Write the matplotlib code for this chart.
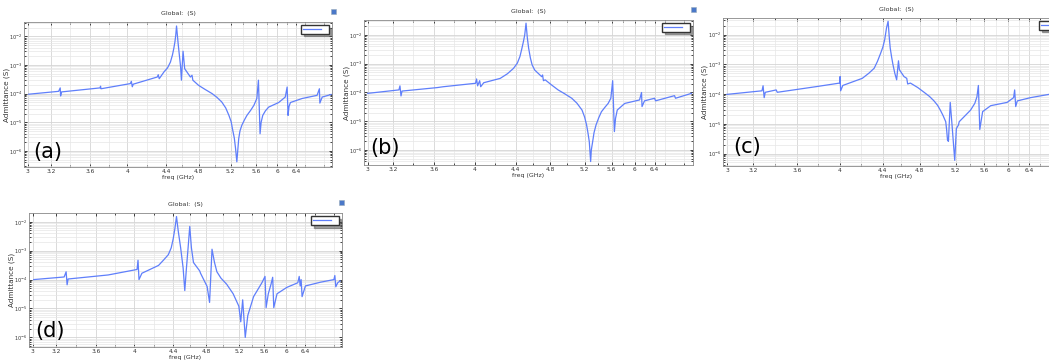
import numpy as np
import matplotlib
matplotlib.use("Agg")
import matplotlib.pyplot as plt
from matplotlib.patches import Rectangle
from matplotlib.ticker import FixedLocator, FormatStrFormatter, LogLocator, NullFormatter

# tick labels of the frequency axis, and where they sit along the axis (0..1)
tick_ghz = [3, 3.2, 3.6, 4, 4.4, 4.8, 5.2, 5.6, 6, 6.4]
minor_ghz = [3.4, 3.8, 4.2, 4.6, 5.0, 5.4, 5.8, 6.2, 6.6, 7.0]
scale_ghz = [2.0, 3.0, 3.2, 3.6, 4.0, 4.4, 4.8, 5.2, 5.6, 6.0, 6.4, 8.0]
scale_pos = [-0.37, 0.01, 0.086, 0.212, 0.335, 0.46, 0.566, 0.67, 0.752, 0.822, 0.883, 1.126]

# (a) frequency (GHz) and log10 admittance (S)
freq_a = [3.01, 3.28, 3.296, 3.30, 3.31, 3.71, 3.715, 3.72, 4.03, 4.04, 4.05, 4.06,
          4.31, 4.32, 4.33, 4.38, 4.42, 4.455, 4.48, 4.496, 4.51, 4.52, 4.53, 4.55,
          4.58, 4.59, 4.61, 4.63, 4.70, 4.72, 4.73, 4.80, 4.88, 4.97, 5.03, 5.09,
          5.14, 5.18, 5.21, 5.23, 5.26, 5.28, 5.30, 5.33, 5.35, 5.38, 5.42, 5.46,
          5.52, 5.57, 5.62, 5.65, 5.68, 5.70, 5.73, 5.78, 5.84, 6.03, 6.17, 6.21,
          6.23, 6.25, 6.28, 6.53, 6.85, 6.90, 6.91, 6.96, 7.15]
log_adm_a = [-4.02, -3.92, -3.80, -4.08, -3.94, -3.80, -3.74, -3.83, -3.65, -3.57, -3.76, -3.67,
             -3.42, -3.34, -3.48, -3.24, -3.10, -2.90, -2.65, -2.43, -2.20, -1.97, -1.64, -2.26,
             -3.07, -3.53, -2.52, -3.13, -3.42, -3.36, -3.53, -3.71, -3.85, -4.00, -4.13, -4.29,
             -4.50, -4.76, -4.98, -5.22, -5.55, -5.92, -6.38, -5.57, -5.30, -5.10, -4.92, -4.76,
             -4.58, -4.41, -4.17, -3.53, -5.40, -5.00, -4.76, -4.60, -4.47, -4.31, -4.12, -3.77,
             -4.76, -4.45, -4.31, -4.17, -4.06, -3.83, -4.33, -4.12, -4.03]

# (b)
freq_b = [3.00, 3.26, 3.27, 3.28, 3.29, 3.63, 3.69, 4.01, 4.02, 4.03, 4.05, 4.06, 4.09,
          4.25, 4.32, 4.38, 4.42, 4.45, 4.47, 4.49, 4.505, 4.52, 4.535, 4.55, 4.57,
          4.59, 4.62, 4.70, 4.71, 4.72, 4.74, 4.81, 4.89, 4.97, 5.05, 5.11, 5.17,
          5.20, 5.23, 5.25, 5.27, 5.29, 5.30, 5.32, 5.34, 5.37, 5.41, 5.45, 5.50,
          5.55, 5.59, 5.62, 5.65, 5.67, 5.70, 5.83, 6.10, 6.14, 6.15, 6.20, 6.40,
          6.42, 6.80, 6.82, 7.14]
log_adm_b = [-4.03, -3.91, -3.77, -4.12, -3.95, -3.83, -3.80, -3.68, -3.53, -3.77, -3.59, -3.80, -3.66,
             -3.51, -3.35, -3.16, -2.98, -2.75, -2.50, -2.23, -2.00, -1.59, -2.10, -2.46, -2.80,
             -3.04, -3.22, -3.45, -3.39, -3.59, -3.56, -3.73, -3.91, -4.05, -4.20, -4.37, -4.61,
             -4.85, -5.13, -5.40, -5.71, -6.40, -6.00, -5.71, -5.40, -5.13, -4.88, -4.67, -4.52,
             -4.38, -4.20, -3.59, -5.36, -4.90, -4.61, -4.38, -4.26, -4.00, -4.49, -4.29, -4.20,
             -4.29, -4.11, -4.20, -4.03]

# (c)
freq_c = [3.00, 3.28, 3.29, 3.30, 3.31, 3.41, 3.42, 3.78, 4.00, 4.005, 4.01, 4.03,
          4.21, 4.27, 4.32, 4.35, 4.38, 4.40, 4.42, 4.44, 4.457, 4.47, 4.48, 4.495,
          4.51, 4.53, 4.55, 4.57, 4.58, 4.63, 4.66, 4.67, 4.70, 4.78, 4.85, 4.91,
          4.96, 5.00, 5.03, 5.06, 5.09, 5.10, 5.11, 5.12, 5.14, 5.16, 5.19, 5.21,
          5.24, 5.25, 5.32, 5.41, 5.47, 5.50, 5.52, 5.54, 5.58, 5.71, 5.98, 6.10,
          6.12, 6.14, 6.17, 6.42, 6.77]
log_adm_c = [-4.01, -3.89, -3.72, -4.12, -3.94, -3.86, -3.94, -3.75, -3.63, -3.41, -3.89, -3.71,
             -3.47, -3.30, -3.13, -2.90, -2.62, -2.42, -2.17, -1.77, -1.55, -2.10, -2.45, -2.75,
             -3.01, -3.30, -3.52, -2.88, -3.18, -3.41, -3.47, -3.66, -3.63, -3.78, -3.94, -4.08,
             -4.23, -4.38, -4.54, -4.72, -4.93, -5.20, -5.55, -5.59, -4.28, -5.04, -6.23, -5.16,
             -5.04, -4.93, -4.76, -4.54, -4.31, -4.09, -3.71, -5.19, -4.59, -4.39, -4.28, -4.12,
             -3.86, -4.42, -4.23, -4.12, -4.01]

# (d)
freq_d = [3.01, 3.28, 3.30, 3.31, 3.32, 3.73, 4.03, 4.04, 4.05, 4.08, 4.25, 4.30, 4.35,
          4.38, 4.40, 4.42, 4.44, 4.46, 4.49, 4.52, 4.54, 4.56, 4.58, 4.60, 4.62,
          4.645, 4.72, 4.73, 4.81, 4.84, 4.87, 4.90, 4.93, 4.98, 5.05, 5.13, 5.20,
          5.23, 5.26, 5.30, 5.34, 5.43, 5.56, 5.61, 5.63, 5.67, 5.72, 5.75, 5.77,
          5.83, 6.01, 6.24, 6.27, 6.29, 6.31, 6.33, 6.40, 6.72, 7.00, 7.02, 7.04,
          7.08, 7.13]
log_adm_d = [-4.00, -3.91, -3.73, -4.18, -3.98, -3.84, -3.65, -3.33, -4.00, -3.78, -3.51, -3.33, -3.14,
             -2.90, -2.59, -2.25, -1.82, -2.30, -2.90, -3.60, -4.38, -3.60, -2.90, -2.16, -2.90,
             -3.41, -3.70, -3.78, -4.24, -4.79, -2.95, -3.40, -3.73, -3.95, -4.16, -4.49, -4.92,
             -5.46, -4.70, -6.00, -5.24, -4.59, -4.11, -3.89, -4.97, -4.49, -4.16, -3.92, -4.97,
             -4.49, -4.27, -4.11, -3.89, -4.22, -4.00, -4.59, -4.22, -4.09, -4.00, -3.86, -4.25,
             -4.11, -4.05]

line_color = "#5f7ffb"


def fwd(x):
    return np.interp(x, scale_ghz, scale_pos)


def inv(p):
    return np.interp(p, scale_pos, scale_ghz)


def draw_panel(ax, freq, log_adm, tag, ylo, yhi, tag_xy, ylab_x):
    ln, = ax.plot(freq, 10 ** np.array(log_adm), color=line_color, lw=0.9)
    ax.set_yscale("log")
    ax.set_xscale("function", functions=(fwd, inv))
    ax.set_xlim(2.97, 7.17)
    ax.set_ylim(10 ** ylo, 10 ** yhi)
    ax.xaxis.set_major_locator(FixedLocator(tick_ghz))
    ax.xaxis.set_minor_locator(FixedLocator(minor_ghz))
    ax.xaxis.set_major_formatter(FormatStrFormatter("%g"))
    ax.yaxis.set_major_locator(LogLocator(base=10, numticks=10))
    ax.yaxis.set_minor_locator(LogLocator(base=10, subs=np.arange(2, 10), numticks=20))
    ax.yaxis.set_minor_formatter(NullFormatter())
    ax.grid(which="major", color="#d4d4d4", lw=0.6)
    ax.grid(which="minor", color="#e6e6e6", lw=0.5)
    ax.tick_params(which="both", direction="in", top=True, right=True,
                   labelsize=4.2, length=2, width=0.5, pad=1.5, labelcolor="#333333")
    ax.tick_params(axis="y", labelsize=3.6, pad=1)
    ax.tick_params(which="minor", length=1.2)
    for s in ax.spines.values():
        s.set_color("#888888")
        s.set_linewidth(0.6)
    ax.set_title("Global:  (S)", fontsize=4.5, pad=5, color="#333333")
    ax.set_xlabel("freq (GHz)", fontsize=4.5, labelpad=1, color="#333333")
    ax.set_ylabel("Admittance (S)", fontsize=5.2, color="#333333")
    ax.yaxis.set_label_coords(ylab_x, 0.5)
    ax.legend([ln], [" "], loc="upper right", fontsize=4, handlelength=3.2,
              fancybox=False, edgecolor="#333333", shadow=True, borderpad=0.3,
              borderaxespad=0.6, framealpha=1)
    ax.text(tag_xy[0], tag_xy[1], tag, transform=ax.transAxes, fontsize=15,
            ha="left", va="center")


fig = plt.figure(figsize=(10.49, 3.63), dpi=100)
ax_a = fig.add_axes([0.0229, 0.540, 0.2936, 0.3994])
ax_b = fig.add_axes([0.347, 0.5455, 0.3136, 0.3994])
ax_c = fig.add_axes([0.6892, 0.5427, 0.3308, 0.4077])
ax_d = fig.add_axes([0.0276, 0.045, 0.2984, 0.368])

draw_panel(ax_a, freq_a, log_adm_a, "(a)", -6.56, -1.5, (0.03, 0.1), -0.045)
draw_panel(ax_b, freq_b, log_adm_b, "(b)", -6.52, -1.48, (0.02, 0.12), -0.043)
draw_panel(ax_c, freq_c, log_adm_c, "(c)", -6.42, -1.44, (0.03, 0.13), -0.044)
draw_panel(ax_d, freq_d, log_adm_d, "(d)", -6.32, -1.7, (0.02, 0.12), -0.046)

# small toolbar icons at the top right of the panels
for x, y in [(0.316, 0.962), (0.659, 0.967), (0.323, 0.436)]:
    fig.patches.append(Rectangle((x, y), 0.0045, 0.013, transform=fig.transFigure,
                                 facecolor="#4a78c8", edgecolor="#9ab", lw=0.4))

fig.savefig("out.png", dpi=100, facecolor="white")
